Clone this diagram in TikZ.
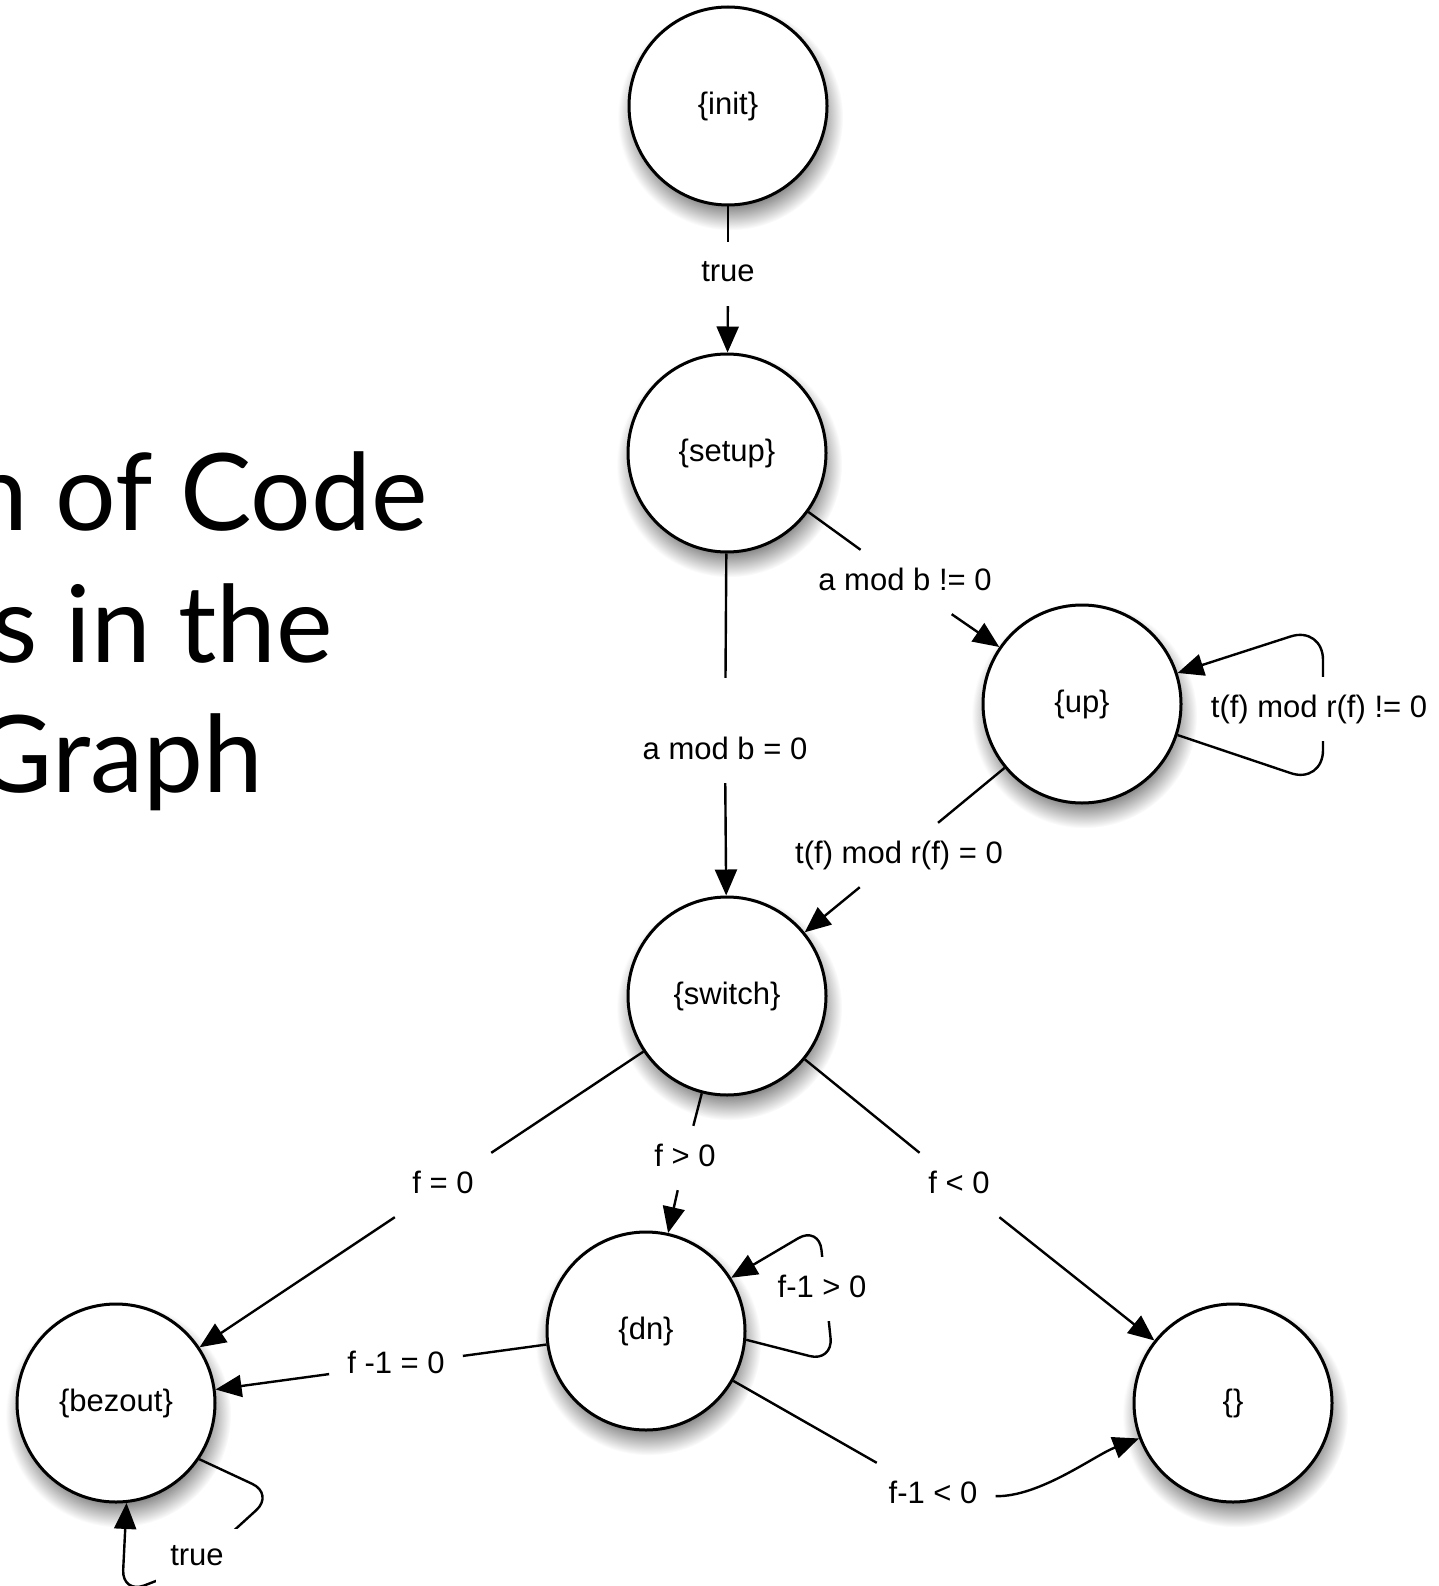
\documentclass[tikz,border=0pt]{standalone}
\usepackage{fontspec}
\setmainfont{Liberation Sans}
\newfontfamily\titlefont{Lato}
\usetikzlibrary{arrows.meta,shadows,fadings}

\newcommand{\lblfont}{\fontsize{31}{37}\selectfont}

% a round fading with a soft rim, for the state shadows
\pgfdeclareradialshading{softrimshade}{\pgfpointorigin}{%
  color(0pt)=(pgftransparent!0); color(19pt)=(pgftransparent!0);
  color(25pt)=(pgftransparent!100); color(50pt)=(pgftransparent!100)}
\pgfdeclarefading{soft rim}{\pgfuseshading{softrimshade}}

\tikzset{
  state/.style={circle, draw=black, line width=3pt, fill=white,
    minimum size=198pt, inner sep=0pt, font=\lblfont,
    drop shadow={shadow xshift=2pt, shadow yshift=-10pt,
      shadow scale=1.14, fill=black, path fading=soft rim}},
  cond/.style={font=\lblfont, inner xsep=18pt, inner ysep=18pt,
    text height=22pt, text depth=6pt},
  loopcond/.style={cond, fill=white, inner xsep=4pt},
  edge/.style={line width=2.4pt, draw=black},
  arr/.style={edge, -{Triangle[length=26pt,width=22pt]}},
  heading/.style={font=\titlefont\fontsize{107}{128}\selectfont,
    anchor=base east, inner sep=0pt}
}

\begin{document}
\begin{tikzpicture}[x=1pt,y=-1pt]
\useasboundingbox (0,0) rectangle (1438,1586);
\fill[white] (0,0) rectangle (1438,1586);

% slide heading, running off the left edge
\node[heading] (h1) at (428,530) {n of Code};
\node[heading] (h2) at (333,662) {s in the};
\node[heading] (h3) at (263,792) {Graph};

% states
\node[state] (init)   at (728,106)  {\{init\}};
\node[state] (setup)  at (727,453)  {\{setup\}};
\node[state] (up)     at (1082,704) {\{up\}};
\node[state] (switch) at (727,996)  {\{switch\}};
\node[state] (dn)     at (646,1331) {\{dn\}};
\node[state] (bezout) at (116,1403) {\{bezout\}};
\node[state] (empty)  at (1233,1403) {\{\}};

% guard labels on straight transitions
\node[cond] (c1) at (728,274)  {true};
\node[cond] (c2) at (905,582)  {a mod b != 0};
\node[cond] (c3) at (725,751)  {a mod b = 0};
\node[cond] (c4) at (899,855)  {t(f) mod r(f) = 0};
\node[cond] (c5) at (443,1185) {f = 0};
\node[cond] (c6) at (685,1158) {f > 0};
\node[cond] (c7) at (959,1185) {f < 0};
\node[cond] (c8) at (396,1365) {f -1 = 0};
\node[cond] (c9) at (933,1495) {f-1 < 0};

% transitions
\draw[edge] (init) -- (c1);
\draw[arr]  (c1) -- (setup);
\draw[edge] (setup) -- (c2);
\draw[arr]  (c2) -- (up);
\draw[edge, shorten >=41pt] (setup) -- (c3);
\draw[arr]  (c3) -- (switch);
\draw[edge] (up) -- (c4);
\draw[arr]  (c4) -- (switch);
\draw[edge] (switch) -- (c5);
\draw[arr]  (c5) -- (bezout);
\draw[edge] (switch) -- (c6);
\draw[arr]  (c6) -- (dn);
\draw[edge] (switch) -- (c7);
\draw[arr]  (c7) -- (empty);
\draw[edge] (dn) -- (c8);
\draw[arr]  (c8) -- (bezout);
\draw[edge] (dn) -- (c9);
\draw[arr]  (c9) .. controls (1040,1497) and (1095,1455) .. (empty);

% self loops
\draw[arr, rounded corners=34pt] (up.-18) -- (1323,784) -- (1323,626) -- (up.18);
\draw[arr, rounded corners=24pt] (dn.-5) -- (833,1362) -- (819,1226) -- (dn.32);
\draw[arr, rounded corners=24pt] (bezout.-34) -- (274,1494) -- (195,1566) -- (122,1594) -- (bezout.-84);

\node[loopcond] (c10) at (1319,709) {t(f) mod r(f) != 0};
\node[loopcond] (c11) at (822,1289) {f-1 > 0};
\node[loopcond, inner xsep=14pt, inner ysep=14pt] (c12) at (197,1557) {true};
\end{tikzpicture}
\end{document}
